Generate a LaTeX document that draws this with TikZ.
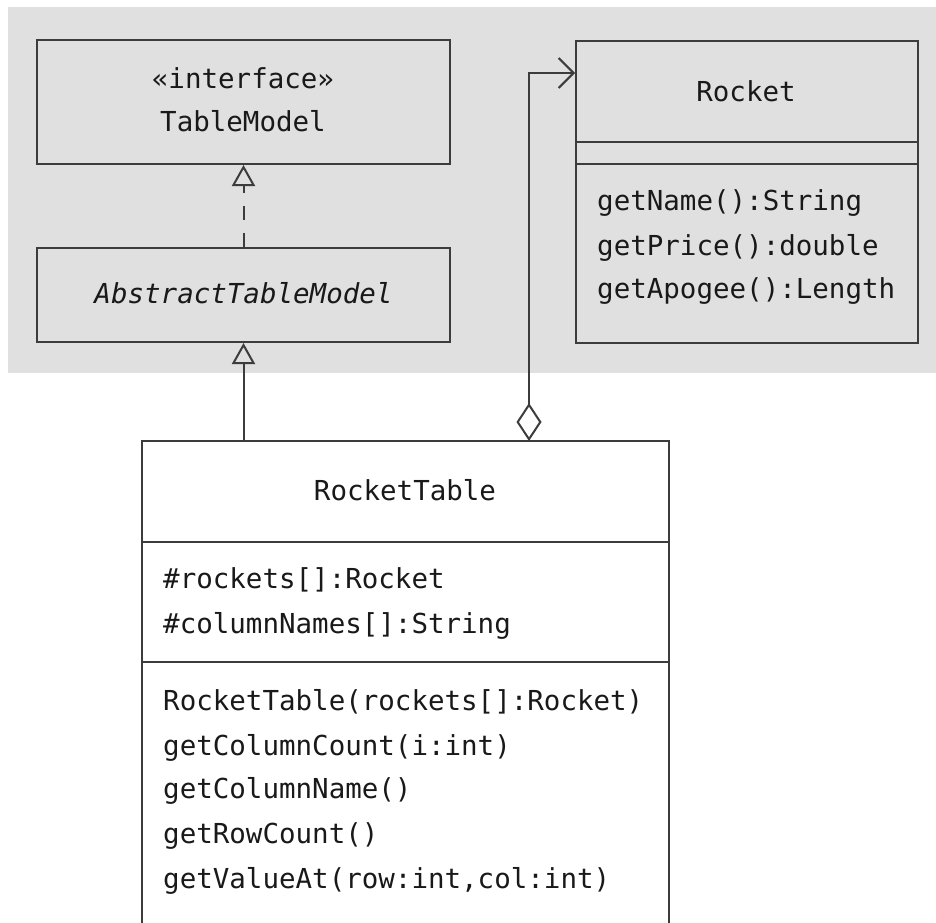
\documentclass[tikz,border=0pt]{standalone}
\usepackage{fontspec}
\setmainfont{DejaVu Sans Mono}
\usetikzlibrary{arrows.meta}
\definecolor{bggray}{RGB}{224,224,224}
\definecolor{linec}{RGB}{60,60,60}
\definecolor{textc}{RGB}{25,25,25}
\begin{document}
\begin{tikzpicture}[x=1pt,y=-1pt,
  umlbox/.style={draw=linec, line width=2pt, rectangle, inner sep=0pt, anchor=north west},
  lbl/.style={font=\fontsize{27.5}{32}\selectfont, text=textc, inner sep=0pt, yshift=-6pt},
  conn/.style={draw=linec, line width=2pt},
  divider/.style={draw=linec, line width=2pt},
  genarrow/.style={conn, -{Triangle[open, length=21pt, width=23pt, line width=2pt]}},
  realarrow/.style={genarrow, dash pattern=on 14pt off 13pt},
  aggarrow/.style={conn, {Diamond[open, length=38pt, width=25pt, line width=2pt]}-{Straight Barb[length=15pt, width=30pt, line width=2pt]}}
]
\path[use as bounding box] (0,0) rectangle (936,922);
\clip (0,0) rectangle (936,922);
\fill[bggray] (8,7) rectangle (936,373);

% TableModel
\node[umlbox, minimum width=413pt, minimum height=124pt] (tm) at (36,39) {};
\node[lbl, anchor=mid] (tmst) at (243,80) {«interface»};
\node[lbl, anchor=mid] (tmname) at (243,123) {TableModel};

% AbstractTableModel
\node[umlbox, minimum width=413pt, minimum height=94pt] (atm) at (36,247) {};
\node[lbl, anchor=mid] (atmname) at (atm.center) {\itshape AbstractTableModel};

% Rocket
\node[umlbox, minimum width=342pt, minimum height=302pt] (rk) at (575,40) {};
\draw[divider] (rk.west |- 0,142) -- (rk.east |- 0,142);
\draw[divider] (rk.west |- 0,164) -- (rk.east |- 0,164);
\node[lbl, anchor=mid] (rkname) at (746,93) {Rocket};
\node[lbl, anchor=mid west] (rkm1) at (597,202) {getName():String};
\node[lbl, anchor=mid west] (rkm2) at (597,247) {getPrice():double};
\node[lbl, anchor=mid west] (rkm3) at (597,290) {getApogee():Length};

% RocketTable (continues below the picture's lower edge)
\node[anchor=north west, inner sep=0pt, minimum width=527pt, minimum height=520pt] (rt) at (142,441) {};
\draw[conn] (rt.south west) -- (rt.north west) -- (rt.north east) -- (rt.south east);
\draw[divider] (rt.west |- 0,542) -- (rt.east |- 0,542);
\draw[divider] (rt.west |- 0,662) -- (rt.east |- 0,662);
\node[lbl, anchor=mid] (rtname) at (405,492) {RocketTable};
\node[lbl, anchor=mid west] (rta1) at (163,580) {\#rockets[]:Rocket};
\node[lbl, anchor=mid west] (rta2) at (163,625) {\#columnNames[]:String};
\node[lbl, anchor=mid west] (rtm1) at (163,702) {RocketTable(rockets[]:Rocket)};
\node[lbl, anchor=mid west] (rtm2) at (163,747) {getColumnCount(i:int)};
\node[lbl, anchor=mid west] (rtm3) at (163,790) {getColumnName()};
\node[lbl, anchor=mid west] (rtm4) at (163,835) {getRowCount()};
\node[lbl, anchor=mid west] (rtm5) at (163,880) {getValueAt(row:int,col:int)};

% connectors
\draw[realarrow] (atm.north) -- (tm.south);
\draw[genarrow] (rt.north -| atm.south) -- (atm.south);
\coordinate (bend) at (529,73);
\draw[aggarrow] (rt.north -| bend) -- (bend) -- (bend -| rk.west);
\end{tikzpicture}
\end{document}
